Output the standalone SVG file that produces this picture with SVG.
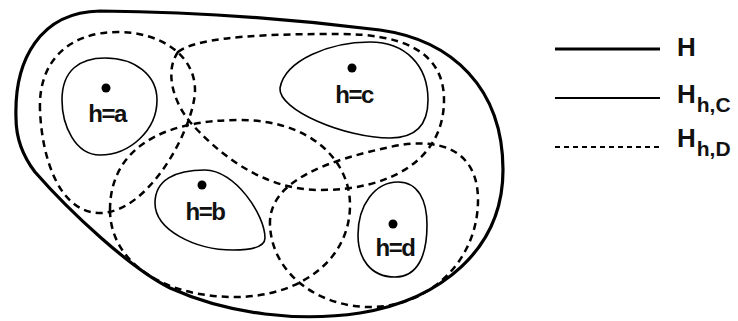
<svg xmlns="http://www.w3.org/2000/svg" width="738" height="321" viewBox="0 0 738 321">
<style>
.outer{fill:none;stroke:#000;stroke-width:3.2;stroke-linejoin:round}
.solid{fill:none;stroke:#000;stroke-width:1.6}
.dash{fill:none;stroke:#000;stroke-width:2.5;stroke-dasharray:7 5}
.dot{fill:#000}
.lbl{font-family:"Liberation Sans",Arial,sans-serif;font-weight:bold;font-size:24px;letter-spacing:-1.5px;text-anchor:middle;fill:#111}
.leg{font-family:"Liberation Sans",Arial,sans-serif;font-weight:bold;font-size:26px;fill:#111}
.sub{font-size:21px}
</style>
<rect width="738" height="321" fill="#fff"/>
<g id="H">
<path class="outer" d="M16,118 C14,60 40,12 100,11 C200,12 300,20 380,30 C452,40 503,88 503,170 C503,250 440,300 360,313 C300,322 230,315 170,288 C130,268 70,212 35,172 C22,155 16,138 16,118 Z"/>
</g>
<g id="connectors">
<path id="Da" class="dash" d="M40,110 C38,60 70,32 118,32 C160,32 195,55 195,90 C195,125 150,213 100,213 C60,213 42,160 40,110 Z"/>
<path id="Dc" class="dash" d="M178,52 C200,35 280,34 340,34 C400,34 444,50 444,100 C444,160 390,190 320,190 C260,190 215,150 190,122 C172,100 165,70 178,52 Z"/>
<path id="Db" class="dash" d="M110,210 C110,150 160,120 240,120 C310,120 350,160 350,205 C350,260 300,297 235,297 C160,297 110,260 110,210 Z"/>
<path id="Dd" class="dash" d="M270,225 C268,180 330,160 390,147 C440,136 478,150 478,200 C478,260 430,307 370,307 C320,307 272,275 270,225 Z"/>
</g>
<g id="node-a">
<path class="solid" d="M62,100 C62,70 80,58 105,58 C135,58 157,75 157,100 C157,130 130,155 100,155 C75,155 62,125 62,100 Z"/>
<circle class="dot" cx="106" cy="88" r="4.5"/>
<text class="lbl" x="107" y="122">h=a</text>
</g>
<g id="node-c">
<path class="solid" d="M280,88 C285,60 330,42 370,42 C405,42 428,65 428,100 C428,125 415,138 390,138 C345,138 278,110 280,88 Z"/>
<circle class="dot" cx="352" cy="68" r="4.5"/>
<text class="lbl" x="354" y="103">h=c</text>
</g>
<g id="node-b">
<path class="solid" d="M155,203 C155,180 175,170 205,170 C235,170 265,215 265,238 C265,248 250,250 233,250 C195,250 155,230 155,203 Z"/>
<circle class="dot" cx="202" cy="185" r="4.5"/>
<text class="lbl" x="205" y="220">h=b</text>
</g>
<g id="node-d">
<path class="solid" d="M358,235 C358,205 375,182 398,182 C418,182 427,200 427,225 C427,255 418,277 395,277 C370,277 358,258 358,235 Z"/>
<circle class="dot" cx="393" cy="224" r="4.5"/>
<text class="lbl" x="395" y="256">h=d</text>
</g>
<g id="legend">
<line x1="555" y1="49" x2="660" y2="49" stroke="#000" stroke-width="3.2"/>
<line x1="555" y1="98" x2="660" y2="98" stroke="#000" stroke-width="1.8"/>
<line x1="555" y1="147" x2="661" y2="147" stroke="#000" stroke-width="1.8" stroke-dasharray="5 4"/>
<text class="leg" x="677" y="56">H</text>
<text class="leg" x="677" y="103">H<tspan class="sub" dx="1" dy="9">h,C</tspan></text>
<text class="leg" x="677" y="147">H<tspan class="sub" dx="1" dy="9">h,D</tspan></text>
</g>
</svg>
